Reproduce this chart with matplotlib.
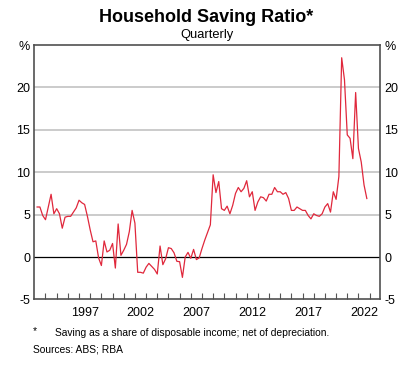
import numpy as np
import matplotlib.pyplot as plt

plt.rcParams['font.family'] = ['Liberation Sans', 'DejaVu Sans']

# household saving ratio, quarterly, per cent
saving_ratio = [
    5.9, 5.9, 4.9, 4.4, 5.9, 7.4, 5.1, 5.7, 5.1, 3.4,
    4.7, 4.8, 4.8, 5.3, 5.8, 6.7, 6.4, 6.2, 4.8, 3.2,
    1.8, 1.9, -0.1, -1.0, 1.9, 0.6, 0.8, 1.6, -1.3, 3.9,
    0.2, 0.8, 1.5, 3.0, 5.5, 4.0, -1.8, -1.8, -1.9, -1.2,
    -0.75, -1.1, -1.45, -2.0, 1.3, -0.9, -0.2, 1.1, 1.0, 0.5,
    -0.5, -0.55, -2.4, 0.0, 0.55, -0.15, 0.9,
    -0.3, -0.1, 1.0, 2.0, 2.9, 3.8,
    9.7, 7.6, 8.9, 5.7, 5.5, 6.0, 5.1, 6.1, 7.5, 8.2,
    7.7, 8.1, 9.0, 7.1, 7.7, 5.5, 6.5, 7.1, 7.0, 6.6,
    7.4, 7.4, 8.2, 7.7, 7.7, 7.4, 7.6, 6.9, 5.5, 5.5,
    5.9, 5.7, 5.5, 5.5, 4.9, 4.5, 5.1, 4.9, 4.8, 5.1,
    5.9, 6.3, 5.3, 7.7, 6.8, 9.5, 23.5, 20.9, 14.4, 14.0,
    11.6, 19.4, 12.8, 11.2, 8.5, 6.9,
]
first_quarter = 1993.25
year_labels = [1997, 2002, 2007, 2012, 2017, 2022]
y_ticks = [-5, 0, 5, 10, 15, 20, 25]
y_tick_labels = ["-5", "0", "5", "10", "15", "20", "%"]

t = first_quarter + 0.25 * np.arange(len(saving_ratio))

fig = plt.figure(figsize=(4.16, 3.80), dpi=100)
ax = fig.add_axes([0.0825, 0.212, 0.831, 0.6695])
ax.set_xlim(1993, 2023.93)
ax.set_ylim(-5, 25)

for g in [5, 10, 15, 20]:
    ax.axhline(g, color="#bdbdbd", lw=1.1, zorder=1)
ax.axhline(0, color="black", lw=0.9, zorder=2)
ax.plot(t, saving_ratio, color="#e0283c", lw=0.9, zorder=3)

# year boundaries as tick marks, labels centred mid-year
ax.set_xticks(np.arange(1994, 2024))
ax.tick_params(axis="x", which="major", direction="in", length=4, width=0.8,
               color="#555555", labelbottom=False)
ax.set_xticks([y + 0.5 for y in year_labels], minor=True)
ax.set_xticklabels([str(y) for y in year_labels], minor=True)
ax.tick_params(axis="x", which="minor", length=0, labelsize=9, pad=5.5)

ax.set_yticks(y_ticks)
ax.set_yticklabels(y_tick_labels)
ax.tick_params(axis="y", length=0, pad=3, labelsize=9,
               labelleft=True, labelright=True)

for s in ax.spines.values():
    s.set_color("#505050")
    s.set_linewidth(1.2)

fig.text(0.496, 1 - 18 / 380, "Household Saving Ratio*", ha="center", va="center",
         fontsize=13, weight="bold")
fig.text(0.498, 1 - 35 / 380, "Quarterly", ha="center", va="center", fontsize=9.3)

fig.text(33 / 416, 1 - 331 / 380, "*", ha="left", va="center", fontsize=7.4)
fig.text(55 / 416, 1 - 333 / 380, "Saving as a share of disposable income; net of depreciation.",
         ha="left", va="center", fontsize=7.4)
fig.text(33 / 416, 1 - 349 / 380, "Sources: ABS; RBA", ha="left", va="center", fontsize=7.4)

fig.savefig("out.png", dpi=100)
